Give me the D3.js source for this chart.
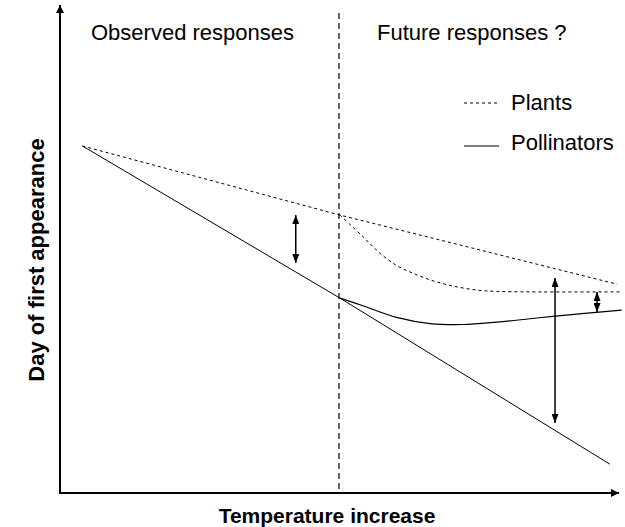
<!DOCTYPE html>
<html><head><meta charset="utf-8">
<script src="https://cdn.jsdelivr.net/npm/d3@7"></script>
<style>body{margin:0;background:#fff}svg{display:block}</style>
</head><body>
<script>
// ---- data (abstract units: temperature 0-10, day 0-100) ----
const threshold = 5;
const plantsObserved = [[0.4, 72.3], [5, 57.9], [9.95, 43.5]];
const plantsFuture = [[5, 57.9], [5.41, 53.4], [5.71, 50.0], [6.01, 47.4], [6.30, 45.8], [6.61, 44.4],
  [6.91, 43.4], [7.20, 42.7], [7.50, 42.2], [7.80, 42.0], [8.39, 41.9], [10, 41.9]];
const pollinatorsObserved = [[0.4, 72.3], [5, 40.6], [9.82, 6.0]];
const pollinatorsFuture = [[5, 40.6], [5.41, 39.0], [6.01, 36.6], [6.61, 35.3], [7.20, 35.1],
  [7.80, 35.6], [8.39, 36.3], [8.80, 36.8], [10.03, 38.1]];
const mismatchArrows = [
  {x: 4.21, y0: 57.9, y1: 47.9},
  {x: 8.84, y0: 44.8, y1: 14.6},
  {x: 9.59, y0: 41.9, y1: 37.7}
];
const periodLabels = ["Observed responses", "Future responses ?"];
const legendLabels = ["Plants", "Pollinators"];
const xTitle = "Temperature increase";
const yTitle = "Day of first appearance";

const W = 625, H = 527;
const x = d3.scaleLinear().domain([0, 10]).range([60, 620]);
const y = d3.scaleLinear().domain([0, 100]).range([493, 13]);

const svg = d3.select("body").append("svg").attr("width", W).attr("height", H);
const defs = svg.append("defs");
function marker(id, w, l) {
  defs.append("marker").attr("id", id).attr("viewBox", `0 0 ${l} ${w}`)
    .attr("refX", l).attr("refY", w / 2).attr("markerWidth", l).attr("markerHeight", w)
    .attr("markerUnits", "userSpaceOnUse").attr("orient", "auto-start-reverse")
    .append("path").attr("d", `M0,0L${l},${w / 2}L0,${w}Z`).attr("fill", "#000");
}
marker("ah", 7, 9);
marker("ax", 8, 8);

const font = "Arial, 'Liberation Sans', sans-serif";

// axes
svg.append("line").attr("x1", x(0)).attr("y1", y(0)).attr("x2", x(0)).attr("y2", 5)
  .attr("stroke", "#000").attr("stroke-width", 2).attr("marker-end", "url(#ax)");
svg.append("line").attr("x1", x(0) - 1).attr("y1", y(0)).attr("x2", 619).attr("y2", y(0))
  .attr("stroke", "#000").attr("stroke-width", 2).attr("marker-end", "url(#ax)");

// threshold line
svg.append("line").attr("x1", x(threshold) - 1).attr("x2", x(threshold) - 1).attr("y1", 13).attr("y2", y(0))
  .attr("stroke", "#000").attr("stroke-width", 1.2).attr("stroke-dasharray", "6,4");

const lin = d3.line().x(d => x(d[0])).y(d => y(d[1]));
const curve = d3.line().x(d => x(d[0])).y(d => y(d[1])).curve(d3.curveCatmullRom.alpha(0.5));

svg.append("path").attr("d", lin(plantsObserved)).attr("fill", "none").attr("stroke", "#000")
  .attr("stroke-width", 1).attr("stroke-dasharray", "3,3");
svg.append("path").attr("d", curve(plantsFuture)).attr("fill", "none").attr("stroke", "#000")
  .attr("stroke-width", 1).attr("stroke-dasharray", "3,3");
svg.append("path").attr("d", lin(pollinatorsObserved)).attr("fill", "none").attr("stroke", "#000")
  .attr("stroke-width", 1);
svg.append("path").attr("d", curve(pollinatorsFuture)).attr("fill", "none").attr("stroke", "#000")
  .attr("stroke-width", 1.2);

// mismatch arrows
svg.selectAll("line.arr").data(mismatchArrows).enter().append("line").attr("class", "arr")
  .attr("x1", d => x(d.x)).attr("x2", d => x(d.x)).attr("y1", d => y(d.y0)).attr("y2", d => y(d.y1))
  .attr("stroke", "#000").attr("stroke-width", 1.5)
  .attr("marker-start", "url(#ah)").attr("marker-end", "url(#ah)");

// period labels
svg.append("text").attr("x", 91).attr("y", 40).text(periodLabels[0])
  .attr("font-family", font).attr("font-size", 22);
svg.append("text").attr("x", 377).attr("y", 40).text(periodLabels[1])
  .attr("font-family", font).attr("font-size", 22);

// legend
const leg = svg.append("g");
leg.append("line").attr("x1", 464).attr("x2", 499).attr("y1", 103).attr("y2", 103)
  .attr("stroke", "#000").attr("stroke-dasharray", "3,3");
leg.append("line").attr("x1", 464).attr("x2", 499).attr("y1", 146).attr("y2", 146)
  .attr("stroke", "#000");
leg.append("text").attr("x", 511).attr("y", 110).text(legendLabels[0])
  .attr("font-family", font).attr("font-size", 22);
leg.append("text").attr("x", 511).attr("y", 150).text(legendLabels[1])
  .attr("font-family", font).attr("font-size", 22);

// axis titles
svg.append("text").attr("x", 327).attr("y", 523).attr("text-anchor", "middle").text(xTitle)
  .attr("font-family", font).attr("font-size", 21).attr("font-weight", "bold");
svg.append("text").attr("transform", "translate(44,260) rotate(-90)").attr("text-anchor", "middle")
  .text(yTitle).attr("font-family", font).attr("font-size", 22).attr("font-weight", "bold");
</script>
</body></html>
